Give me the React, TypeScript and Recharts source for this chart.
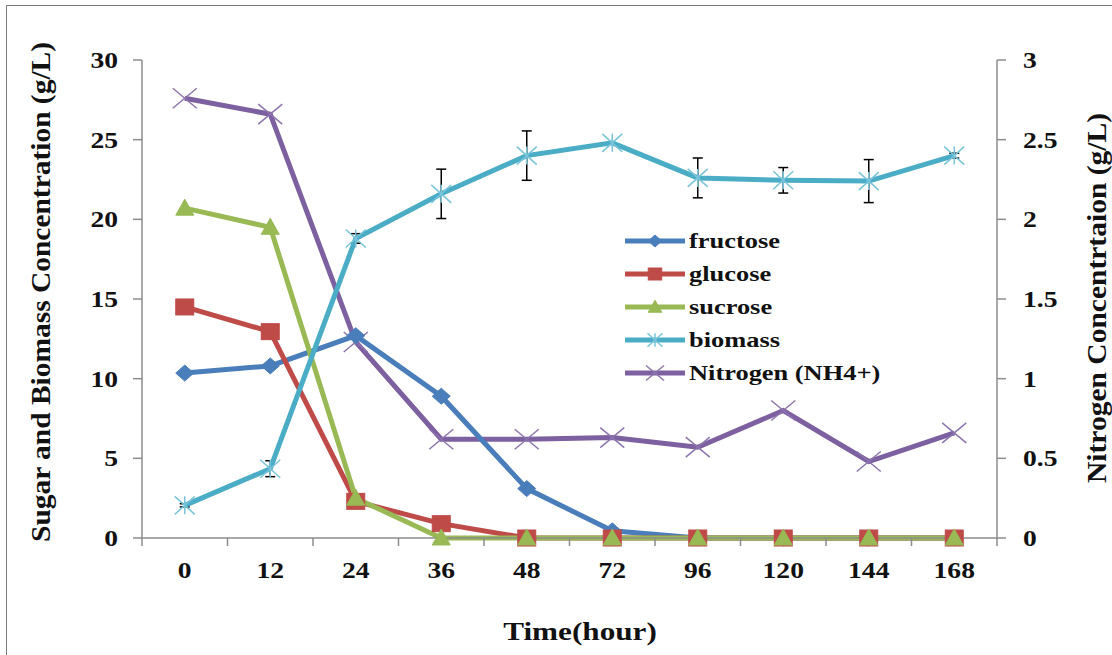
import React from 'react';
import { ComposedChart, Line, XAxis, YAxis, ErrorBar, Legend } from 'recharts';

// Sampling times (hours) and measured concentrations
const hours = ['0', '12', '24', '36', '48', '72', '96', '120', '144', '168'];
const fructose = [10.35, 10.8, 12.7, 8.9, 3.1, 0.45, 0, 0, 0, 0];
const glucose = [14.5, 12.95, 2.3, 0.9, 0, 0, 0, 0, 0, 0];
const sucrose = [20.7, 19.5, 2.5, 0, 0, 0, 0, 0, 0, 0];
const biomass = [2.05, 4.35, 18.8, 21.6, 24.0, 24.8, 22.6, 22.45, 22.4, 24.0];
const biomassSd = [0.1, 0.5, 0.3, 1.55, 1.55, 0, 1.25, 0.8, 1.35, 0.15];
const nitrogen = [2.76, 2.66, 1.23, 0.62, 0.62, 0.63, 0.57, 0.8, 0.48, 0.66];

const leftTicks = [0, 5, 10, 15, 20, 25, 30];
const rightTicks = [0, 0.5, 1, 1.5, 2, 2.5, 3];

const rows = hours.map((time, i) => ({
  time,
  fructose: fructose[i],
  glucose: glucose[i],
  sucrose: sucrose[i],
  biomass: biomass[i],
  biomassSd: biomassSd[i],
  nitrogen: nitrogen[i],
}));

const FONT = "'Liberation Serif', 'Times New Roman', serif";
const AXIS = '#8c8c8c';
const TICK = 8;
const STRETCH = 1.2;

const COLORS = {
  fructose: '#4A7EBB',
  glucose: '#BE4B48',
  sucrose: '#98B954',
  biomass: '#4BACC6',
  nitrogen: '#7D60A0',
};

type Shape = 'diamond' | 'square' | 'triangle' | 'star' | 'cross';

function Marker({ cx, cy, shape, color, k = 1 }: { cx: number; cy: number; shape: Shape; color: string; k?: number }) {
  if (cx == null || cy == null) return null;
  if (shape === 'diamond') {
    const w = 9 * k, h = 8 * k;
    return <polygon points={`${cx},${cy - h} ${cx + w},${cy} ${cx},${cy + h} ${cx - w},${cy}`} fill={color} stroke={color} strokeWidth={1} />;
  }
  if (shape === 'square') {
    const w = 9 * k, h = 8 * k;
    return <rect x={cx - w} y={cy - h} width={2 * w} height={2 * h} fill={color} stroke={color} strokeWidth={1} />;
  }
  if (shape === 'triangle') {
    const w = 9 * k;
    return <polygon points={`${cx},${cy - 9 * k} ${cx + w},${cy + 7 * k} ${cx - w},${cy + 7 * k}`} fill={color} stroke={color} strokeWidth={1} />;
  }
  if (shape === 'star') {
    const w = 10 * k, h = 9 * k;
    return (
      <g stroke="#78C4DA" strokeWidth={1.5}>
        <line x1={cx - w} y1={cy - h} x2={cx + w} y2={cy + h} />
        <line x1={cx - w} y1={cy + h} x2={cx + w} y2={cy - h} />
        <line x1={cx} y1={cy - h} x2={cx} y2={cy + h} />
      </g>
    );
  }
  const w = 12 * k, h = 10 * k;
  return (
    <g stroke="#8C74AE" strokeWidth={1.5}>
      <line x1={cx - w} y1={cy - h} x2={cx + w} y2={cy + h} />
      <line x1={cx - w} y1={cy + h} x2={cx + w} y2={cy - h} />
    </g>
  );
}

const dotOf = (shape: Shape, color: string) => (p: any) => (
  <Marker key={`${shape}-${p.index}`} cx={p.cx} cy={p.cy} shape={shape} color={color} />
);

function TimeTick(props: any) {
  const { x, y, payload, index } = props;
  const half = payload?.offset ?? 0;
  const top = y - TICK;
  const last = index === hours.length - 1;
  return (
    <g>
      <line x1={x - half} x2={x - half} y1={top} y2={top + TICK} stroke={AXIS} strokeWidth={1.5} />
      {last && <line x1={x + half} x2={x + half} y1={top} y2={top + TICK} stroke={AXIS} strokeWidth={1.5} />}
      <text
        transform={`translate(${x},${top + 40}) scale(${STRETCH},1)`}
        textAnchor="middle"
        fontFamily={FONT}
        fontWeight="bold"
        fontSize={23}
        fill="#111"
      >
        {payload.value}
      </text>
    </g>
  );
}

const ValueTick = (anchor: 'start' | 'end') => (props: any) => {
  const { x, y, payload } = props;
  return (
    <text
      transform={`translate(${x},${y}) scale(${STRETCH},1)`}
      dy="0.35em"
      textAnchor={anchor}
      fontFamily={FONT}
      fontWeight="bold"
      fontSize={23}
      fill="#111"
    >
      {payload.value}
    </text>
  );
};

const legendItems: { key: keyof typeof COLORS; label: string; shape: Shape }[] = [
  { key: 'fructose', label: 'fructose', shape: 'diamond' },
  { key: 'glucose', label: 'glucose', shape: 'square' },
  { key: 'sucrose', label: 'sucrose', shape: 'triangle' },
  { key: 'biomass', label: 'biomass', shape: 'star' },
  { key: 'nitrogen', label: 'Nitrogen (NH4+)', shape: 'cross' },
];

function SeriesLegend() {
  return (
    <div style={{ fontFamily: FONT, fontWeight: 'bold', fontSize: 22, color: '#111' }}>
      {legendItems.map((it) => (
        <div key={it.key} style={{ display: 'flex', alignItems: 'center', height: 33 }}>
          <svg width={62} height={24} style={{ display: 'block' }}>
            <line x1={0} y1={12} x2={60} y2={12} stroke={COLORS[it.key]} strokeWidth={5} />
            <Marker cx={30} cy={12} shape={it.shape} color={COLORS[it.key]} k={0.75} />
          </svg>
          <span style={{ display: 'inline-block', marginLeft: 2, transform: `scaleX(${STRETCH})`, transformOrigin: 'left center', whiteSpace: 'nowrap' }}>
            {it.label}
          </span>
        </div>
      ))}
    </div>
  );
}

const titleStyle = { fontFamily: FONT, fontWeight: 'bold' as const, fill: '#111' };

export default function App() {
  return (
    <div style={{ position: 'absolute', left: 0, top: 0, width: 1112, height: 655, background: '#fff', overflow: 'hidden' }}>
      <div
        style={{
          position: 'absolute',
          left: 6,
          top: 5,
          width: 1120,
          height: 660,
          borderLeft: '1.5px solid #7a7a7a',
          borderTop: '1.5px solid #7a7a7a',
        }}
      />
      <ComposedChart width={1112} height={655} data={rows} margin={{ top: 60, right: 55, bottom: 0, left: 82 }}>
        <XAxis
          dataKey="time"
          scale="band"
          height={117}
          interval={0}
          tickSize={TICK}
          tickMargin={0}
          tickLine={false}
          axisLine={{ stroke: AXIS, strokeWidth: 1.5 }}
          tick={TimeTick}
          label={{
            content: () => (
              <text transform={`translate(580,640) scale(${STRETCH},1)`} textAnchor="middle" fontSize={26} {...titleStyle}>
                Time(hour)
              </text>
            ),
          }}
        />
        <YAxis
          yAxisId="left"
          width={60}
          domain={[0, 30]}
          ticks={leftTicks}
          interval={0}
          tickSize={9}
          tickMargin={15}
          axisLine={{ stroke: AXIS, strokeWidth: 1.5 }}
          tickLine={{ stroke: AXIS, strokeWidth: 1.5 }}
          tick={ValueTick('end')}
          label={{
            content: () => (
              <text
                transform="translate(50,292) rotate(-90)"
                textAnchor="middle"
                fontSize={27}
                textLength={500}
                lengthAdjust="spacingAndGlyphs"
                {...titleStyle}
              >
                Sugar and Biomass Concentration (g/L)
              </text>
            ),
          }}
        />
        <YAxis
          yAxisId="right"
          orientation="right"
          width={60}
          domain={[0, 3]}
          ticks={rightTicks}
          interval={0}
          tickSize={9}
          tickMargin={17}
          axisLine={{ stroke: AXIS, strokeWidth: 1.5 }}
          tickLine={{ stroke: AXIS, strokeWidth: 1.5 }}
          tick={ValueTick('start')}
          label={{
            content: () => (
              <text
                transform="translate(1106,298) rotate(-90)"
                textAnchor="middle"
                fontSize={27}
                textLength={370}
                lengthAdjust="spacingAndGlyphs"
                {...titleStyle}
              >
                Nitrogen Concentrtaion (g/L)
              </text>
            ),
          }}
        />
        <Legend
          layout="vertical"
          align="center"
          verticalAlign="middle"
          content={() => <SeriesLegend />}
          wrapperStyle={{ left: 625, top: 224, width: 240 }}
        />
        <Line
          yAxisId="right"
          dataKey="nitrogen"
          stroke={COLORS.nitrogen}
          strokeWidth={5}
          dot={dotOf('cross', COLORS.nitrogen)}
          activeDot={false}
          isAnimationActive={false}
        />
        <Line
          yAxisId="left"
          dataKey="fructose"
          stroke={COLORS.fructose}
          strokeWidth={5}
          dot={dotOf('diamond', COLORS.fructose)}
          activeDot={false}
          isAnimationActive={false}
        />
        <Line
          yAxisId="left"
          dataKey="glucose"
          stroke={COLORS.glucose}
          strokeWidth={5}
          dot={dotOf('square', COLORS.glucose)}
          activeDot={false}
          isAnimationActive={false}
        />
        <Line
          yAxisId="left"
          dataKey="sucrose"
          stroke={COLORS.sucrose}
          strokeWidth={5}
          dot={dotOf('triangle', COLORS.sucrose)}
          activeDot={false}
          isAnimationActive={false}
        />
        <Line
          yAxisId="left"
          dataKey="biomass"
          stroke={COLORS.biomass}
          strokeWidth={5}
          dot={dotOf('star', COLORS.biomass)}
          activeDot={false}
          isAnimationActive={false}
        >
          <ErrorBar dataKey="biomassSd" direction="y" width={5} stroke="#000" strokeWidth={1.5} isAnimationActive={false} />
        </Line>
      </ComposedChart>
    </div>
  );
}
